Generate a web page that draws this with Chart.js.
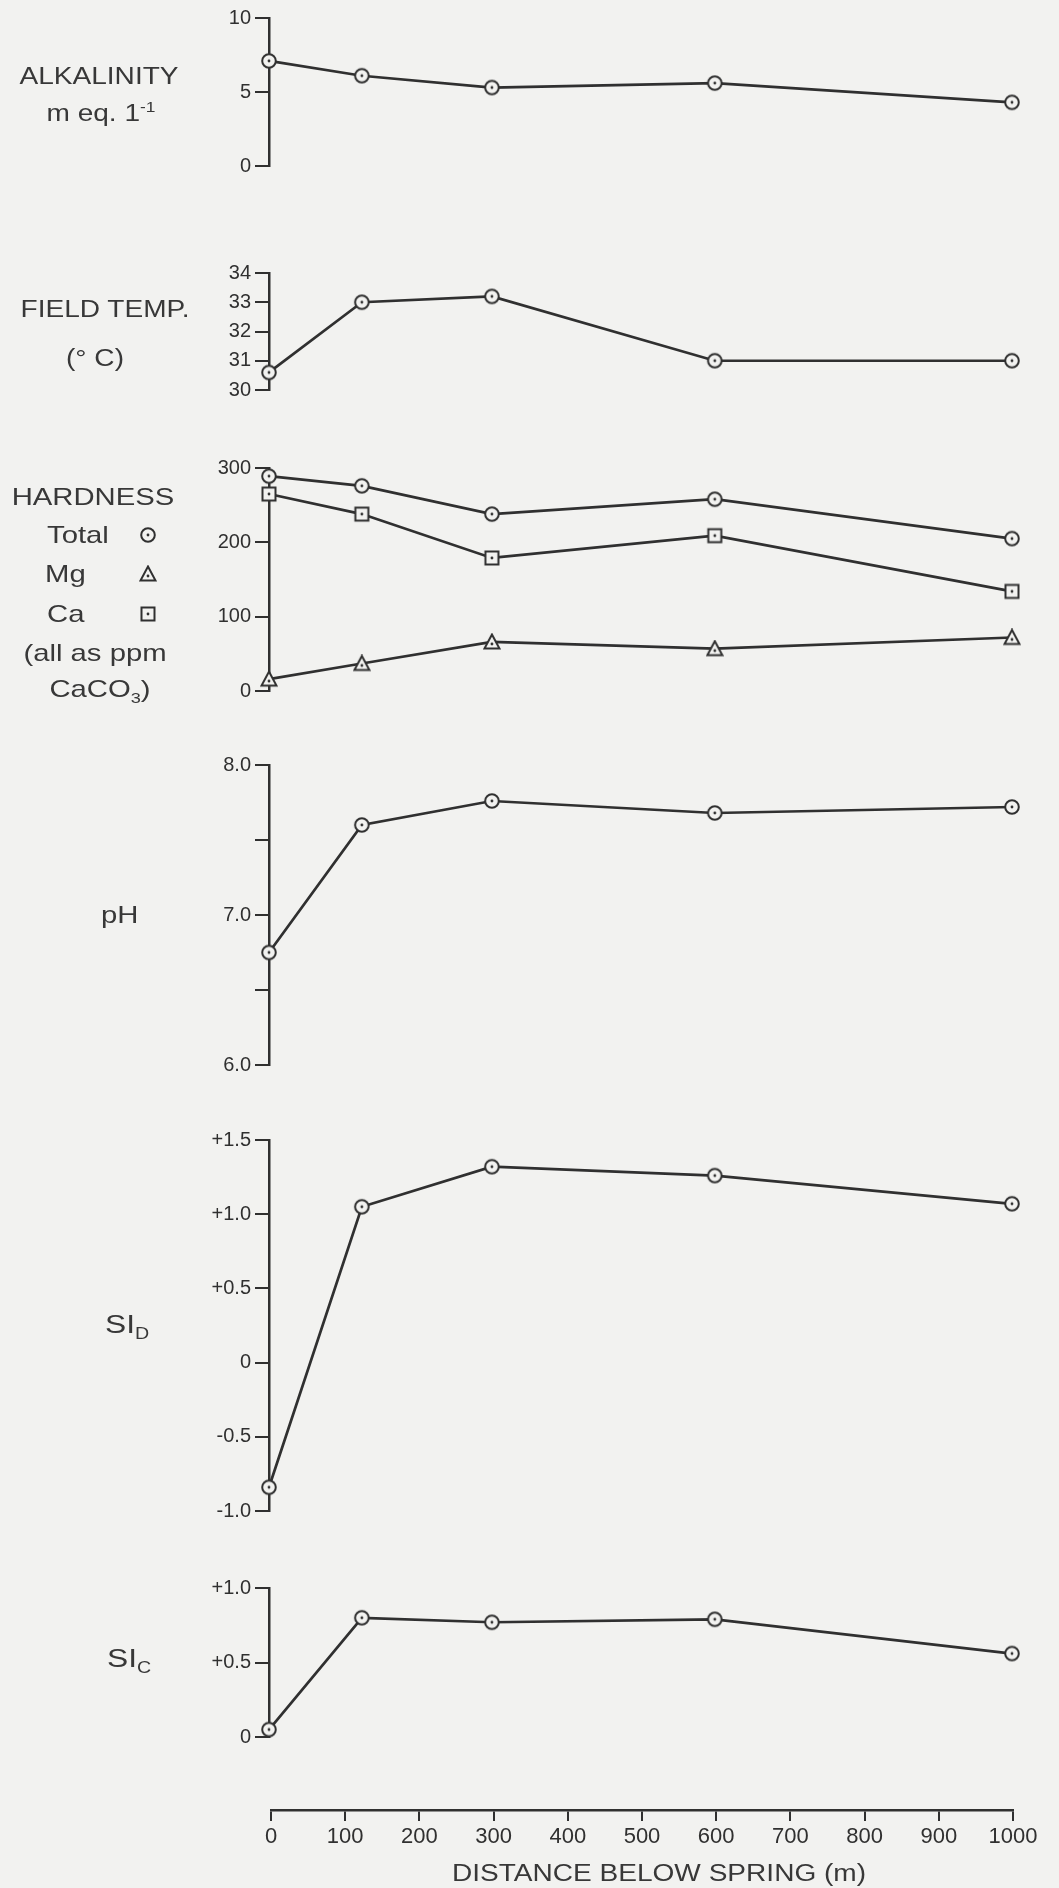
<!DOCTYPE html>
<html>
<head>
<meta charset="utf-8">
<title>Downstream water chemistry</title>
<script src="https://cdn.jsdelivr.net/npm/chart.js@4.4.0/dist/chart.umd.min.js"></script>
<style>
  html, body { margin: 0; padding: 0; background: #f2f2f0; }
  #page { position: relative; width: 1059px; height: 1888px; overflow: hidden;
          font-family: "Liberation Sans", Arial, sans-serif; color: #383838; }
  canvas { position: absolute; left: 0; }
  .lbl { position: absolute; white-space: nowrap; line-height: 1; }
  .lbl sub, .lbl sup { font-size: 62%; line-height: 0; }
</style>
</head>
<body>
<div id="page"></div>
<script>
// distance below spring (m) of each sampling station
const distances = [0, 125, 300, 600, 1000];

const alkalinity = [7.1, 6.1, 5.3, 5.6, 4.3];
const fieldTemp = [30.6, 33.0, 33.2, 31.0, 31.0];
const hardTotal = [289, 276, 238, 258, 205];
const hardMg = [16, 37, 66, 57, 72];
const hardCa = [265, 238, 179, 209, 134];
const pH = [6.75, 7.6, 7.76, 7.68, 7.72];
const siD = [-0.84, 1.05, 1.32, 1.26, 1.07];
const siC = [0.05, 0.80, 0.77, 0.79, 0.56];

// tick values and their labels
const alkTicks = [0, 5, 10];
const alkLabels = ["0", "5", "10"];
const tempTicks = [30, 31, 32, 33, 34];
const tempLabels = ["30", "31", "32", "33", "34"];
const hardTicks = [0, 100, 200, 300];
const hardLabels = ["0", "100", "200", "300"];
const phTicks = [6.0, 6.5, 7.0, 7.5, 8.0];
const phLabels = ["6.0", "", "7.0", "", "8.0"];
const siDTicks = [-1.0, -0.5, 0, 0.5, 1.0, 1.5];
const siDLabels = ["-1.0", "-0.5", "0", "+0.5", "+1.0", "+1.5"];
const siCTicks = [0, 0.5, 1.0];
const siCLabels = ["0", "+0.5", "+1.0"];
const distTicks = [0, 100, 200, 300, 400, 500, 600, 700, 800, 900, 1000];
const distLabels = ["0", "100", "200", "300", "400", "500", "600", "700", "800", "900", "1000"];

const INK = "#303030";
const PAPER = "#f2f2f0";
const AXIS_X = 269;   // y axis line position
const RIGHT = 1012;   // x = 1000
const page = document.getElementById("page");

// open markers with a dot in the middle
function marker(shape) {
  const c = document.createElement("canvas");
  c.width = 18;
  c.height = 18;
  const g = c.getContext("2d");
  g.fillStyle = PAPER;
  g.strokeStyle = INK;
  g.lineWidth = 2;
  g.beginPath();
  if (shape === "circle") g.arc(9, 9, 6.8, 0, Math.PI * 2);
  else if (shape === "square") g.rect(2.5, 2.5, 13, 13);
  else { g.moveTo(9, 1.5); g.lineTo(16.5, 15.5); g.lineTo(1.5, 15.5); g.closePath(); }
  g.fill();
  g.stroke();
  g.beginPath();
  g.arc(9, shape === "triangle" ? 11 : 9, 1.4, 0, Math.PI * 2);
  g.fillStyle = INK;
  g.fill();
  return c;
}
const circ = marker("circle");
const tri = marker("triangle");
const sq = marker("square");

function series(values, style) {
  return {
    data: distances.map((d, i) => ({ x: d, y: values[i] })),
    borderColor: INK,
    borderWidth: 2.7,
    pointStyle: style,
    pointRadius: 7,
    tension: 0,
    clip: false,
    fill: false
  };
}

function panel(top, bottom, ticks, labels, datasets) {
  const pad = 22;
  const cv = document.createElement("canvas");
  cv.width = 1059;
  cv.height = bottom - top + pad * 2;
  cv.style.top = (top - pad) + "px";
  page.appendChild(cv);
  new Chart(cv, {
    type: "line",
    data: { datasets: datasets },
    options: {
      responsive: false,
      animation: false,
      layout: { padding: { top: pad, bottom: pad, left: 0, right: 1059 - RIGHT } },
      plugins: { legend: { display: false }, tooltip: { enabled: false } },
      scales: {
        x: { type: "linear", min: 0, max: 1000, display: false },
        y: {
          type: "linear",
          min: ticks[0],
          max: ticks[ticks.length - 1],
          afterBuildTicks: (s) => { s.ticks = ticks.map((v) => ({ value: v })); },
          afterFit: (s) => { s.width = AXIS_X; },
          border: { display: true, color: INK, width: 2.5 },
          grid: { drawOnChartArea: false, tickLength: 14, lineWidth: 2, color: INK },
          ticks: {
            color: INK,
            padding: 4,
            font: { family: "Liberation Sans", size: 20 },
            callback: (v, i) => labels[i]
          }
        }
      }
    }
  });
}

panel(18, 166, alkTicks, alkLabels, [series(alkalinity, circ)]);
panel(273, 390, tempTicks, tempLabels, [series(fieldTemp, circ)]);
panel(468, 691, hardTicks, hardLabels, [
  series(hardTotal, circ),
  series(hardCa, sq),
  series(hardMg, tri)
]);
panel(765, 1065, phTicks, phLabels, [series(pH, circ)]);
panel(1140, 1511, siDTicks, siDLabels, [series(siD, circ)]);
panel(1588, 1737, siCTicks, siCLabels, [series(siC, circ)]);

// shared distance axis at the bottom
const xc = document.createElement("canvas");
xc.width = 1059;
xc.height = 108;
xc.style.top = "1780px";
page.appendChild(xc);
new Chart(xc, {
  type: "line",
  data: { datasets: [] },
  options: {
    responsive: false,
    animation: false,
    layout: { padding: { top: 0, bottom: 0, left: 271, right: 1059 - 1013 } },
    plugins: { legend: { display: false }, tooltip: { enabled: false } },
    scales: {
      y: { display: false },
      x: {
        type: "linear",
        position: "bottom",
        min: 0,
        max: 1000,
        afterBuildTicks: (s) => { s.ticks = distTicks.map((v) => ({ value: v })); },
        afterFit: (s) => { s.height = 78; },
        border: { display: true, color: INK, width: 2.5 },
        grid: { drawOnChartArea: false, tickLength: 11, lineWidth: 2, color: INK },
        ticks: {
          color: INK,
          padding: 3,
          maxRotation: 0,
          autoSkip: false,
          font: { family: "Liberation Sans", size: 22 },
          callback: (v, i) => distLabels[i]
        }
      }
    }
  }
});

// text labels: centre x (or left x), baseline y
function label(html, x, baseline, size, align) {
  const d = document.createElement("div");
  d.className = "lbl";
  d.innerHTML = html;
  d.style.fontSize = size + "px";
  d.style.top = (baseline - size * 0.85) + "px";
  d.style.left = x + "px";
  d.style.transformOrigin = align === "left" ? "left center" : "center center";
  d.style.transform = (align === "left" ? "" : "translateX(-50%) ") + "scaleX(1.22)";
  page.appendChild(d);
}
function legendMark(src, x, y) {
  const c = document.createElement("canvas");
  c.width = src.width;
  c.height = src.height;
  c.getContext("2d").drawImage(src, 0, 0);
  c.style.left = (x - src.width / 2) + "px";
  c.style.top = (y - src.height / 2) + "px";
  page.appendChild(c);
}

label("ALKALINITY", 99, 85, 23);
label("m eq. 1<sup>-1</sup>", 101, 122, 23);
label("FIELD TEMP.", 105, 318, 23);
label("(° C)", 95, 367, 23);
label("HARDNESS", 93, 505, 24);
label("Total", 47, 543, 24, "left");
label("Mg", 45, 582, 24, "left");
label("Ca", 47, 622, 24, "left");
label("(all as ppm", 95, 661, 24);
label("CaCO<sub>3</sub>)", 100, 697, 24);
label("pH", 101, 923, 24, "left");
label("SI<sub>D</sub>", 105, 1333, 26, "left");
label("SI<sub>C</sub>", 107, 1667, 26, "left");
label("DISTANCE BELOW SPRING (m)", 659, 1882, 23);

legendMark(circ, 148, 535);
legendMark(tri, 148, 574);
legendMark(sq, 148, 614);
</script>
</body>
</html>
